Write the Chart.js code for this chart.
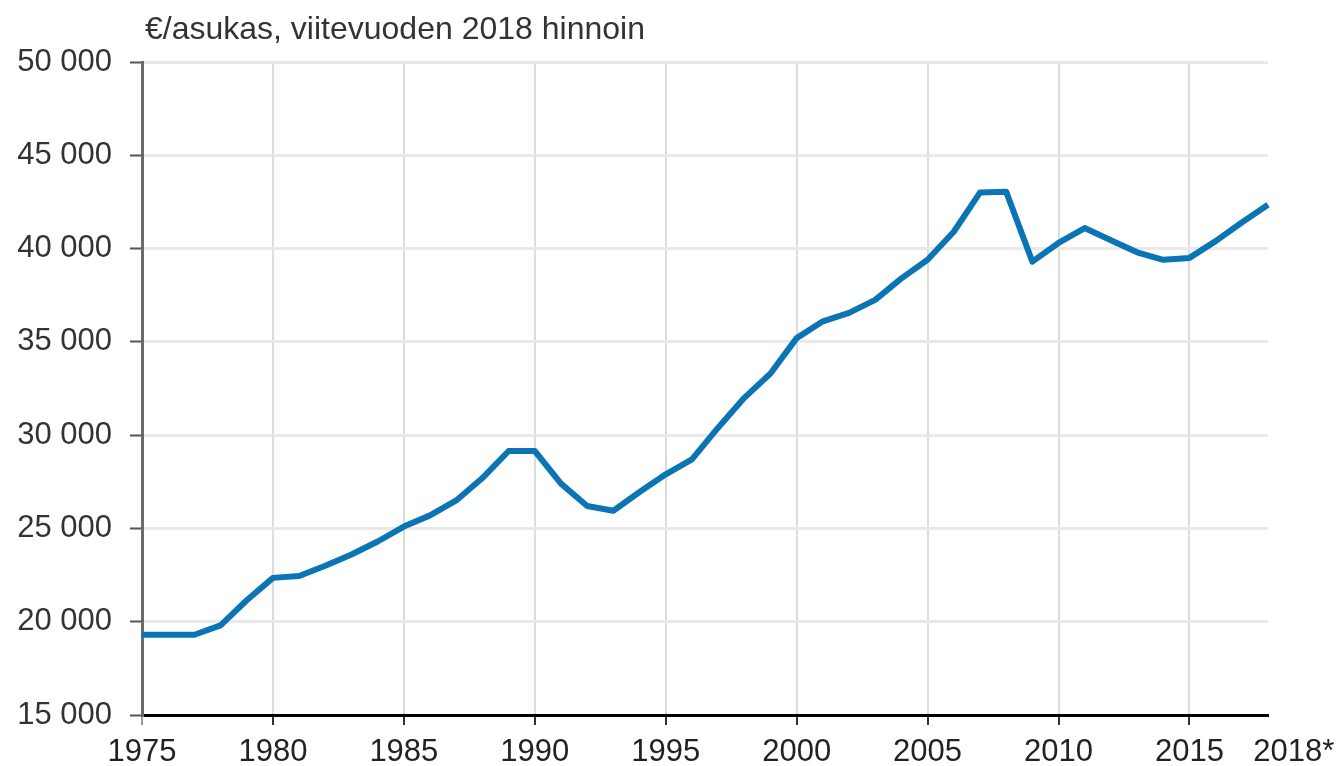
<!DOCTYPE html>
<html>
<head>
<meta charset="utf-8">
<script src="https://cdn.jsdelivr.net/npm/chart.js@4/dist/chart.umd.min.js"></script>
<style>
html, body { margin: 0; padding: 0; background: #fff; }
#wrap { width: 1338px; height: 766px; }
</style>
</head>
<body>
<div id="wrap"><canvas id="chart"></canvas></div>
<script>
// Data
const years = [1975,1976,1977,1978,1979,1980,1981,1982,1983,1984,1985,1986,1987,1988,1989,
	1990,1991,1992,1993,1994,1995,1996,1997,1998,1999,2000,2001,2002,2003,2004,2005,
	2006,2007,2008,2009,2010,2011,2012,2013,2014,2015,2016,2017,2018];
const perCapita = [19300,19300,19300,19800,21150,22350,22450,23000,23600,24300,25100,25700,26500,27700,29150,
	29150,27400,26200,25950,26950,27900,28700,30400,32000,33300,35200,36100,36550,37250,38400,39400,
	40900,43000,43050,39300,40300,41100,40450,39800,39400,39500,40400,41400,42350];
const xTickYears = [1975,1980,1985,1990,1995,2000,2005,2010,2015,2018];
const xTickLabels = ['1975','1980','1985','1990','1995','2000','2005','2010','2015','      2018*'];
const yTicks = [15000,20000,25000,30000,35000,40000,45000,50000];
const unitTitle = '€/asukas, viitevuoden 2018 hinnoin';

const FONT = "'Liberation Sans', Arial, sans-serif";

function fmt(v){
	return String(v).replace(/\B(?=(\d{3})+(?!\d))/g, ' ');
}

const titlePlugin = {
	id: 'unitTitle',
	afterDraw(chart) {
		const ctx = chart.ctx;
		ctx.save();
		ctx.font = '32px ' + FONT;
		ctx.fillStyle = '#333';
		ctx.textBaseline = 'middle';
		ctx.textAlign = 'left';
		ctx.fillText(unitTitle, 145, 30);
		ctx.restore();
	}
};

new Chart(document.getElementById('chart'), {
	type: 'line',
	data: {
		datasets: [{
			data: years.map((y, i) => ({x: y, y: perCapita[i]})),
			borderColor: '#0b74b4',
			borderWidth: 6,
			borderJoinStyle: 'round',
			pointRadius: 0,
			tension: 0,
			clip: false
		}]
	},
	options: {
		responsive: true,
		maintainAspectRatio: false,
		animation: false,
		layout: { padding: { left: 0, right: 70, top: 62, bottom: 0 } },
		plugins: { legend: { display: false }, tooltip: { enabled: false } },
		scales: {
			x: {
				type: 'linear',
				min: 1975,
				max: 2018,
				afterBuildTicks: axis => { axis.ticks = xTickYears.map(v => ({value: v})); },
				afterFit: axis => { axis.height = 51; axis.paddingLeft = 0; axis.paddingRight = 0; },
				border: { color: '#000', width: 3 },
				grid: {
					color: c => (c.tick && c.tick.value === 2018) ? 'rgba(0,0,0,0)' : '#dcdcdc',
					lineWidth: 2,
					tickColor: c => (c.tick && c.tick.value === 2018) ? 'rgba(0,0,0,0)' : (c.tick && c.tick.value === 1975 ? '#999' : '#333'),
					tickLength: 10,
					tickWidth: 2
				},
				ticks: {
					autoSkip: false,
					maxRotation: 0,
					padding: 9,
					color: '#222',
					font: { family: FONT, size: 31 },
					callback: v => xTickLabels[xTickYears.indexOf(v)]
				}
			},
			y: {
				min: 15000,
				max: 50000,
				afterBuildTicks: axis => { axis.ticks = yTicks.map(v => ({value: v})); },
				afterFit: axis => { axis.width = 142; },
				border: { color: '#6a6a6a', width: 3 },
				grid: {
					color: '#e9e9e9',
					lineWidth: 3,
					tickColor: '#555',
					tickLength: 12,
					tickWidth: 2
				},
				ticks: {
					padding: 18,
					color: '#333',
					font: { family: FONT, size: 31 },
					callback: v => fmt(v)
				}
			}
		}
	},
	plugins: [titlePlugin]
});
</script>
</body>
</html>
